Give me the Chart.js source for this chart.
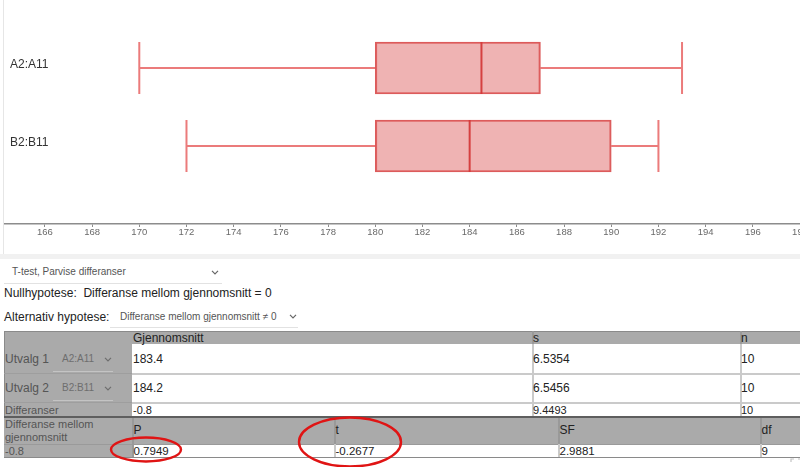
<!DOCTYPE html>
<html lang="no">
<head>
<meta charset="utf-8">
<title>T-test, Parvise differanser</title>
<script src="https://cdn.jsdelivr.net/npm/chart.js@4.4.1/dist/chart.umd.min.js"></script>
<style>
  html, body { margin:0; padding:0; background:#fff; }
  body { position:relative; width:800px; height:467px; overflow:hidden;
         font-family:"Liberation Sans", Arial, Helvetica, sans-serif; color:#222; }
  #plot { position:absolute; left:4px; top:0; width:830px; height:255px; }
  #edge { position:absolute; left:3px; top:0; width:1px; height:254px; background:#e6e6e6; }
  #band { position:absolute; left:0; top:254px; width:800px; height:5px; background:#f1f1f1; }
  .t { position:absolute; white-space:pre; line-height:14px; }
  .r { position:absolute; }
  svg.chev { position:absolute; width:8px; height:5px; overflow:visible; }
  #marks { position:absolute; left:0; top:0; width:800px; height:467px; pointer-events:none; }
</style>
</head>
<body>
<div id="edge"></div>
<div id="plot"><canvas id="chart"></canvas></div>
<div id="band"></div>
<div id="panel"></div>
<svg id="marks" viewBox="0 0 800 467">
  <ellipse cx="146" cy="449.5" rx="35" ry="12" fill="none" stroke="#e01414" stroke-width="2.4"/>
  <ellipse cx="350" cy="442" rx="51" ry="24.5" fill="none" stroke="#e01414" stroke-width="2.4"/>
  <g stroke="#c4c4c4" stroke-width="1.2" fill="none">
    <polyline points="791,462 791,459 794,459"/>
    <polyline points="798,459 801,459"/>
  </g>
</svg>
<script>
// Box plot summaries for the two samples
const sampleNames = ['A2:A11', 'B2:B11'];
const minVals     = [170, 172];
const q1Vals      = [180, 180];
const medianVals  = [184.5, 184];
const q3Vals      = [187, 190];
const maxVals     = [193, 192];
const tickValues  = [166, 168, 170, 172, 174, 176, 178, 180, 182, 184, 186, 188, 190, 192, 194, 196, 198];

// Test statistics shown in the tables
const sampleMeans = ['183.4', '184.2'];
const sampleSds   = ['6.5354', '6.5456'];
const sampleNs    = ['10', '10'];
const diffRow     = ['-0.8', '9.4493', '10'];
const testHeads   = ['P', 't', 'SF', 'df'];
const testValues  = ['0.7949', '-0.2677', '2.9881', '9'];
const diffMean    = '-0.8';

const rowPos = sampleNames.map((_, i) => i + 1);

Chart.defaults.font.family = '"Liberation Sans", Arial, Helvetica, sans-serif';

const boxParts = {
  id: 'boxParts',
  beforeDatasetsDraw(chart) {
    const { ctx, scales: { x, y } } = chart;
    const bars = chart.getDatasetMeta(0).data;
    ctx.save();
    ctx.strokeStyle = 'rgba(232, 100, 100, 0.85)';
    ctx.lineWidth = 2;
    rowPos.forEach((p, i) => {
      const yc = y.getPixelForValue(p);
      const half = bars[i].height / 2;
      const xMin = x.getPixelForValue(minVals[i]);
      const xQ1 = x.getPixelForValue(q1Vals[i]);
      const xQ3 = x.getPixelForValue(q3Vals[i]);
      const xMax = x.getPixelForValue(maxVals[i]);
      ctx.beginPath();
      ctx.moveTo(xMin, yc); ctx.lineTo(xQ1, yc);
      ctx.moveTo(xQ3, yc); ctx.lineTo(xMax, yc);
      ctx.moveTo(xMin, yc - half); ctx.lineTo(xMin, yc + half);
      ctx.moveTo(xMax, yc - half); ctx.lineTo(xMax, yc + half);
      ctx.stroke();
    });
    ctx.restore();
  },
  afterDatasetsDraw(chart) {
    const { ctx, scales: { x, y }, chartArea } = chart;
    const bars = chart.getDatasetMeta(0).data;
    ctx.save();
    ctx.strokeStyle = 'rgba(212, 58, 58, 0.95)';
    ctx.lineWidth = 2;
    rowPos.forEach((p, i) => {
      const yc = y.getPixelForValue(p);
      const half = bars[i].height / 2;
      const xm = x.getPixelForValue(medianVals[i]);
      ctx.beginPath();
      ctx.moveTo(xm, yc - half); ctx.lineTo(xm, yc + half);
      ctx.stroke();
    });
    ctx.fillStyle = '#333';
    ctx.font = '12px "Liberation Sans", Arial, sans-serif';
    ctx.textBaseline = 'middle';
    ctx.textAlign = 'left';
    rowPos.forEach((p, i) => {
      ctx.fillText(sampleNames[i], chartArea.left + 6, y.getPixelForValue(p) - 3.5);
    });
    ctx.restore();
  }
};

new Chart(document.getElementById('chart'), {
  type: 'bar',
  data: {
    datasets: [{
      data: rowPos.map((p, i) => ({ y: p, x: [q1Vals[i], q3Vals[i]] })),
      backgroundColor: 'rgba(224, 110, 110, 0.52)',
      borderColor: 'rgba(214, 62, 62, 0.85)',
      borderWidth: 1.5,
      borderSkipped: false,
      barThickness: 52
    }]
  },
  options: {
    indexAxis: 'y',
    responsive: true,
    maintainAspectRatio: false,
    animation: false,
    layout: { padding: 0 },
    plugins: { legend: { display: false }, tooltip: { enabled: false } },
    scales: {
      x: {
        type: 'linear',
        min: 164.267,
        max: 199.44,
        afterBuildTicks(scale) { scale.ticks = tickValues.map(v => ({ value: v })); },
        afterFit(scale) { scale.height = 31; },
        border: { display: true, color: '#8c8c8c', width: 1.5 },
        grid: { display: true, drawOnChartArea: false, drawTicks: true, tickLength: 3, color: '#8c8c8c' },
        ticks: { font: { size: 9.5 }, color: '#6a6a6a', padding: 0, maxRotation: 0, autoSkip: false }
      },
      y: {
        type: 'linear',
        offset: false,
        min: 0.1282,
        max: 3.0,
        reverse: true,
        display: false
      }
    }
  },
  plugins: [boxParts]
});

// Controls and result tables below the plot
const panel = document.getElementById('panel');
function rect(x, y, w, h, bg) {
  const d = document.createElement('div');
  d.className = 'r';
  d.style.cssText = `left:${x}px;top:${y}px;width:${w}px;height:${h}px;background:${bg}`;
  panel.appendChild(d);
}
function text(x, cy, str, size, color) {
  const d = document.createElement('div');
  d.className = 't';
  d.textContent = str;
  d.style.cssText = `left:${x}px;top:${cy - 7}px;font-size:${size}px;color:${color}`;
  panel.appendChild(d);
}
function chevron(x, y, color) {
  const ns = 'http://www.w3.org/2000/svg';
  const s = document.createElementNS(ns, 'svg');
  s.setAttribute('class', 'chev');
  s.setAttribute('viewBox', '0 0 8 5');
  s.style.left = x + 'px'; s.style.top = y + 'px';
  const pl = document.createElementNS(ns, 'polyline');
  pl.setAttribute('points', '1,0.8 4,3.8 7,0.8');
  pl.setAttribute('fill', 'none');
  pl.setAttribute('stroke', color);
  pl.setAttribute('stroke-width', '1.2');
  s.appendChild(pl);
  panel.appendChild(s);
}

// test selector and hypotheses
text(12, 272, 'T-test, Parvise differanser', 10, '#555');
chevron(211, 270, '#666');
rect(4, 283, 218, 1, '#e2e2e2');
text(4, 292.5, 'Nullhypotese:  Differanse mellom gjennomsnitt = 0', 12, '#222');
text(4, 316.5, 'Alternativ hypotese:', 12, '#222');
text(120, 316.5, 'Differanse mellom gjennomsnitt \u2260 0', 10, '#555');
chevron(289, 314, '#666');
rect(110, 327, 188, 1, '#e2e2e2');

// table 1: sample summaries
rect(4, 331, 826, 13, '#aaaaaa');
rect(4, 344, 128, 72, '#aaaaaa');
rect(132, 344, 698, 72, '#ffffff');
rect(4, 331, 826, 1, '#8a8a8a');
rect(4, 331, 1, 127, '#8a8a8a');
rect(4, 373, 128, 1, '#9e9e9e');
rect(132, 373, 698, 1.5, '#cacaca');
rect(4, 402, 128, 1, '#9e9e9e');
rect(132, 402, 698, 1.5, '#cacaca');
[532, 740].forEach(x => { rect(x, 331, 1.5, 13, '#999'); rect(x, 344, 1.5, 72, '#cacaca'); });
rect(4, 416, 826, 2, '#5e5e5e');

text(133, 338, 'Gjennomsnitt', 12, '#222');
text(533, 338, 's', 12, '#222');
text(741, 338, 'n', 12, '#222');
[359, 388].forEach((cy, i) => {
  text(5, cy, 'Utvalg ' + (i + 1), 12, '#555');
  text(62, cy, sampleNames[i], 10, '#6e6e6e');
  chevron(104, cy - 2, '#6e6e6e');
  rect(53, cy + 12, 60, 1, '#c4c4c4');
  text(133, cy, sampleMeans[i], 12, '#222');
  text(533, cy, sampleSds[i], 12, '#222');
  text(741, cy, sampleNs[i], 12, '#222');
});
text(5, 409.5, 'Differanser', 11, '#555');
text(133, 409.5, diffRow[0], 11, '#222');
text(533, 409.5, diffRow[1], 11, '#222');
text(741, 409.5, diffRow[2], 11, '#222');

// table 2: test result
const cols2 = [132, 334, 558, 760];
rect(4, 418, 826, 26, '#aaaaaa');
rect(4, 444, 128, 13, '#aaaaaa');
rect(132, 444, 698, 13, '#ffffff');
rect(4, 444, 826, 1, '#9a9a9a');
rect(4, 457, 826, 1, '#8a8a8a');
cols2.forEach((x, i) => {
  rect(x, 418, 1.5, 26, '#999');
  rect(x, 444, 1.5, 13, i === 0 ? '#999' : '#cacaca');
});
text(5, 424, 'Differanse mellom', 11, '#555');
text(5, 436.5, 'gjennomsnitt', 11, '#555');
text(5, 451, diffMean, 11, '#555');
testHeads.forEach((h, i) => {
  text(cols2[i] + 1.5, 430, h, 12, '#222');
  text(cols2[i] + 1.5, 451, testValues[i], 11.5, '#222');
});
</script>
</body>
</html>
